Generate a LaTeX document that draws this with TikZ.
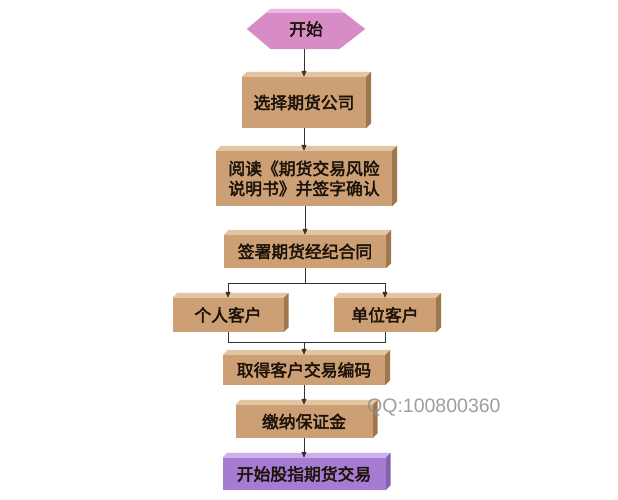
\documentclass[tikz,border=0pt]{standalone}
\usepackage{fontspec}
\newfontfamily\cjkb[FakeBold=2.6]{Noto Sans CJK SC}
\newfontfamily\qqfont{Liberation Sans}
\usetikzlibrary{arrows.meta,calc}
\definecolor{tanface}{HTML}{CCA074}
\definecolor{tantop}{HTML}{E4C5A2}
\definecolor{tanside}{HTML}{9E774E}
\definecolor{pinkface}{HTML}{D88CC6}
\definecolor{pinktop}{HTML}{EDB9E1}
\definecolor{purpface}{HTML}{A67CD2}
\definecolor{purptop}{HTML}{CBB0EC}
\definecolor{purpside}{HTML}{8560B0}
\definecolor{textdark}{HTML}{1C120A}
\definecolor{linegray}{HTML}{333333}
\definecolor{qqgray}{HTML}{8E8E8E}
\pgfdeclarelayer{bg}
\pgfsetlayers{bg,main}
\tikzset{
  boxnode/.style={rectangle, fill=tanface, inner sep=0pt, text=textdark, align=center,
    font=\cjkb\fontsize{16.8}{20}\selectfont},
  conn/.style={draw=linegray, line width=0.9pt},
  arr/.style={conn, -{Triangle[length=6pt,width=5pt]}},
}
\newcommand\mkbevel[3]{%
  \fill[#2] (#1.north west) -- ++(5,5) -- ($(#1.north east)+(5,5)$) -- (#1.north east) -- cycle;
  \fill[#3] (#1.north east) -- ++(5,5) -- ($(#1.south east)+(5,5)$) -- (#1.south east) -- cycle;
}
\begin{document}
\begin{tikzpicture}[x=1pt,y=1pt]
\useasboundingbox (0,0) rectangle (618,500);

% start hexagon (text node, shape drawn behind)
\node[inner sep=0pt, minimum width=118, minimum height=40, text=textdark,
      font=\cjkb\fontsize{16.8}{20}\selectfont] (start) at (306,471) {开始};

\node[boxnode, minimum width=124, minimum height=51] (b1) at (304,397.5) {选择期货公司};
\node[boxnode, minimum width=176, minimum height=55] (b2) at (304,321.5)
  {阅读《期货交易风险\\说明书》并签字确认};
\node[boxnode, minimum width=162, minimum height=33] (b3) at (305,248.5) {签署期货经纪合同};
\node[boxnode, minimum width=111, minimum height=34] (p1) at (228,185) {个人客户};
\node[boxnode, minimum width=102, minimum height=34] (p2) at (385,185) {单位客户};
\node[boxnode, minimum width=162, minimum height=30] (b4) at (304,130) {取得客户交易编码};
\node[boxnode, minimum width=137, minimum height=33] (b5) at (304,78.5) {缴纳保证金};
\node[boxnode, fill=purpface, minimum width=163, minimum height=32] (b6) at (304,26) {开始股指期货交易};

\begin{pgfonlayer}{bg}
  \fill[white] (0,0) rectangle (618,500);
  \fill[pinkface] (start.west) -- ($(start.north west)+(24,0)$) -- ($(start.north east)+(-26,0)$)
    -- (start.east) -- ($(start.south east)+(-26,0)$) -- ($(start.south west)+(24,0)$) -- cycle;
  \fill[pinktop] ($(start.north west)+(24,0)$) -- ($(start.north east)+(-26,0)$)
    -- ($(start.north east)+(-20.8,-4)$) -- ($(start.north west)+(19.2,-4)$) -- cycle;
  \mkbevel{b1}{tantop}{tanside}
  \mkbevel{b2}{tantop}{tanside}
  \mkbevel{b3}{tantop}{tanside}
  \mkbevel{p1}{tantop}{tanside}
  \mkbevel{p2}{tantop}{tanside}
  \mkbevel{b4}{tantop}{tanside}
  \mkbevel{b5}{tantop}{tanside}
  \mkbevel{b6}{purptop}{purpside}
\end{pgfonlayer}

% connectors
\draw[arr] (start.south -| b1.north) -- (b1.north);
\draw[arr] (b1.south -| b2.north) -- (b2.north);
\draw[arr] (b2.south -| b3.north) -- (b3.north);
\draw[arr] (b3.south) -- ++(0,-15) coordinate (split) -| (p1.north);
\draw[arr] (split) -| (p2.north);
\draw[conn] (p1.south) -- ++(0,-10) coordinate (merge) -| (p2.south);
\draw[arr] (merge -| b4.north) -- (b4.north);
\draw[arr] (b4.south -| b5.north) -- (b5.north);
\draw[arr] (b5.south -| b6.north) -- (b6.north);

% watermark contact text
\node[anchor=base west, inner sep=0pt, text=qqgray, opacity=0.85,
      font=\qqfont\fontsize{19.5}{22}\selectfont] (qq) at (367,87) {QQ:100800360};
\end{tikzpicture}
\end{document}
